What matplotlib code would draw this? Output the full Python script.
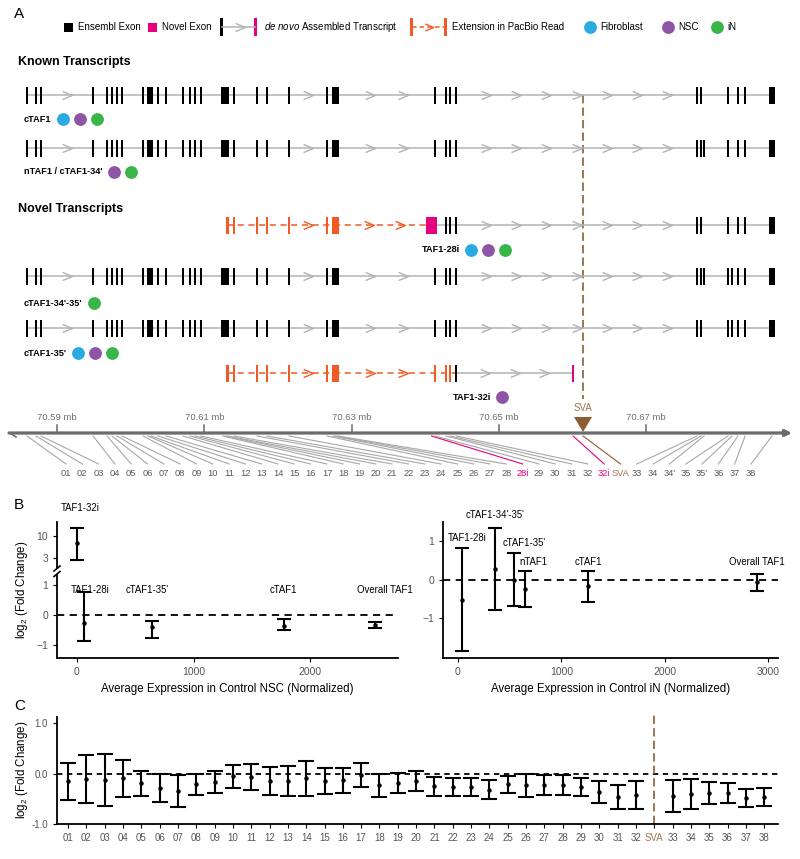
import numpy as np
import matplotlib
matplotlib.use("Agg")
import matplotlib.pyplot as plt
import matplotlib.transforms as mtrans
from matplotlib.path import Path
from matplotlib.patches import Rectangle, Polygon
from matplotlib.lines import Line2D
from matplotlib.ticker import NullLocator, FixedFormatter

plt.rcParams['font.family'] = ['Liberation Sans', 'DejaVu Sans']
plt.rcParams['mathtext.fontset'] = 'custom'
plt.rcParams['mathtext.rm'] = 'Liberation Sans'
plt.rcParams['mathtext.it'] = 'Liberation Sans:italic'

# ---------------- data ----------------
# TAF1 exons, genomic position (Mb) and length (Mb)
exon_ids = ['01', '02', '03', '04', '05', '06', '07', '08', '09', '10',
            '11', '12', '13', '14', '15', '16', '17', '18', '19', '20',
            '21', '22', '23', '24', '25', '26', '27', '28', '29', '30',
            '31', '32', '33', '34', "34'", '35', "35'", '36', '37', '38']
exon_mb = [70.58593, 70.58715, 70.58783, 70.59489, 70.59679, 70.59747, 70.59815, 70.59883, 70.60168, 70.60236,
           70.60276, 70.60371, 70.60480, 70.60711, 70.60806, 70.60874, 70.60955, 70.61247, 70.61281, 70.61315,
           70.61403, 70.61716, 70.61851, 70.62150, 70.62666, 70.62748, 70.62781, 70.62815, 70.64132, 70.64282,
           70.64336, 70.64418, 70.67690, 70.67744, 70.67785, 70.68111, 70.68165, 70.68247, 70.68342, 70.68708]
exon_len = [0.00038, 0.00038, 0.00038, 0.00038, 0.00038, 0.00038, 0.00038, 0.00038, 0.00038, 0.00038,
            0.00050, 0.00038, 0.00038, 0.00038, 0.00038, 0.00038, 0.00038, 0.00038, 0.00038, 0.00038,
            0.00038, 0.00038, 0.00038, 0.00038, 0.00038, 0.00038, 0.00038, 0.00038, 0.00038, 0.00038,
            0.00038, 0.00038, 0.00038, 0.00038, 0.00038, 0.00038, 0.00038, 0.00038, 0.00038, 0.00090]
novel_ids = ['28i', '32i']
novel_mb = [70.64085, 70.66006]
novel_len = [0.0015, 0.00035]
sva_mb = 70.66142
mb_ticks = [70.59, 70.61, 70.63, 70.65, 70.67]

# order of labels under the genomic axis
map_labels = (exon_ids[:28] + ['28i'] + exon_ids[28:32] + ['32i', 'SVA']
              + ['33', '34', "34'", '35', "35'", '36', '37', '38'])

core = exon_ids[:32]
tx_names = ['cTAF1', "nTAF1 / cTAF1-34'", 'TAF1-28i', "cTAF1-34'-35'", "cTAF1-35'", 'TAF1-32i']
tx_exons = [core + ['33', '34', '35', '36', '37', '38'],
            core + ['33', '34', "34'", '35', '36', '37', '38'],
            ['30', '31', '32', '33', '34', '35', '36', '37', '38'],
            core + ['33', '34', "34'", '35', "35'", '36', '37', '38'],
            core + ['33', '34', '35', "35'", '36', '37', '38'],
            ['32']]
tx_ext = [[], [], exon_ids[19:28], [], [], exon_ids[19:31]]
tx_novel = [[], [], ['28i'], [], [], ['32i']]
tx_cells = [['Fibroblast', 'NSC', 'iN'], ['NSC', 'iN'], ['Fibroblast', 'NSC', 'iN'],
            ['iN'], ['Fibroblast', 'NSC', 'iN'], ['NSC']]

# panel B
nsc_names = ['TAF1-32i', 'TAF1-28i', "cTAF1-35'", 'cTAF1', 'Overall TAF1']
nsc_expr = [0, 60, 640, 1770, 2550]
nsc_fc = [6.8, -0.28, -0.4, -0.36, -0.33]
nsc_lo = [2.69, -0.87, -0.77, -0.5, -0.43]
nsc_hi = [15.5, 0.77, -0.2, -0.13, -0.23]

in_names = ['TAF1-28i', "cTAF1-34'-35'", "cTAF1-35'", 'nTAF1', 'cTAF1', 'Overall TAF1']
in_expr = [40, 360, 540, 650, 1260, 2895]
in_fc = [-0.52, 0.28, 0.0, -0.24, -0.17, -0.07]
in_lo = [-1.85, -0.78, -0.69, -0.70, -0.58, -0.30]
in_hi = [0.83, 1.35, 0.70, 0.23, 0.24, 0.15]

# panel C
c_labels = ['01', '02', '03', '04', '05', '06', '07', '08', '09', '10',
            '11', '12', '13', '14', '15', '16', '17', '18', '19', '20',
            '21', '22', '23', '24', '25', '26', '27', '28', '29', '30',
            '31', '32', 'SVA', '33', '34', '35', '36', '37', '38']
c_fc = [-0.15, -0.11, -0.13, -0.09, -0.19, -0.29, -0.34, -0.21, -0.16, -0.05,
        -0.06, -0.15, -0.14, -0.09, -0.14, -0.13, -0.03, -0.23, -0.19, -0.15,
        -0.25, -0.26, -0.26, -0.32, -0.21, -0.23, -0.22, -0.22, -0.27, -0.36,
        -0.47, -0.43, np.nan, -0.44, -0.41, -0.38, -0.39, -0.49, -0.47]
c_lo = [-0.52, -0.58, -0.64, -0.47, -0.45, -0.57, -0.66, -0.43, -0.38, -0.29,
        -0.33, -0.42, -0.45, -0.44, -0.41, -0.38, -0.27, -0.46, -0.39, -0.35,
        -0.44, -0.44, -0.44, -0.51, -0.39, -0.47, -0.42, -0.43, -0.45, -0.59,
        -0.71, -0.70, np.nan, -0.77, -0.70, -0.60, -0.59, -0.67, -0.65]
c_hi = [0.21, 0.37, 0.39, 0.26, 0.06, -0.01, -0.03, 0.0, 0.05, 0.17,
        0.19, 0.12, 0.15, 0.25, 0.11, 0.11, 0.20, -0.01, 0.02, 0.05,
        -0.07, -0.09, -0.09, -0.13, -0.05, -0.01, -0.03, -0.02, -0.09, -0.14,
        -0.23, -0.14, np.nan, -0.12, -0.11, -0.17, -0.19, -0.31, -0.29]

# ---------------- style ----------------
GREY = '#b3b3b3'
ORANGE = '#f15a24'
MAGENTA = '#e6007e'
BROWN = '#8c5d33'
SVA_TXT = '#a07850'
cell_colors = {'Fibroblast': '#29abe2', 'NSC': '#8e55a5', 'iN': '#39b54a'}
TICKC = '#555555'

W, H = 800, 859
fig = plt.figure(figsize=(W / 100, H / 100), dpi=100)

MBPX = 0.02 / 147.3          # Mb per pixel on the genomic axis


def gx(px):
    return 70.59 + (px - 57) * MBPX


def fr(x0, y0, x1, y1):
    return [x0 / W, 1 - y1 / H, (x1 - x0) / W, (y1 - y0) / H]


# ---------------- panel A ----------------
ga = fig.add_axes([0, 0, 1, 1])
ga.set_xlim(gx(0), gx(W))
ga.set_ylim(H, 0)
ga.axis('off')
ga.patch.set_visible(False)

chev = Path([(-0.6, 0.5), (0.6, 0.0), (-0.6, -0.5)],
            [Path.MOVETO, Path.LINETO, Path.LINETO])

pos = dict(zip(exon_ids, exon_mb))
ln = dict(zip(exon_ids, exon_len))
pos.update(zip(novel_ids, novel_mb))
ln.update(zip(novel_ids, novel_len))


def chevrons(a, b, y, color):
    gap = (b - a) / MBPX
    n = int(gap / 33)
    if n < 1:
        return
    xs = [a + (b - a) * (k + 1) / (n + 1) for k in range(n)]
    ga.plot(xs, [y] * n, ls='none', marker=chev, ms=7, mew=1.0, mec=color,
            mfc='none', zorder=2)


def draw_tx(y, exons, ext, novel):
    main = sorted([pos[e] for e in exons + novel])
    ga.plot([main[0], main[-1]], [y, y], color=GREY, lw=1.1, zorder=1)
    for a, b in zip(main[:-1], main[1:]):
        chevrons(a, b, y, GREY)
    if ext:
        ep = sorted(pos[e] for e in ext)
        ga.plot([ep[0], main[0]], [y, y], color=ORANGE, lw=1.1,
                ls=(0, (4, 3)), zorder=1)
        ep2 = ep + [main[0]]
        for a, b in zip(ep2[:-1], ep2[1:]):
            chevrons(a, b, y, ORANGE)
        ga.bar([pos[e] for e in ext], 17, width=[ln[e] for e in ext],
               bottom=y - 8.5, color=ORANGE, lw=0, zorder=3)
    ga.bar([pos[e] for e in exons], 17, width=[ln[e] for e in exons],
           bottom=y - 8.5, color='black', lw=0, zorder=3)
    if novel:
        ga.bar([pos[e] for e in novel], 17, width=[ln[e] for e in novel],
               bottom=y - 8.5, color=MAGENTA, lw=0, zorder=4)


row_y = [95, 148, 225, 276, 328, 373]
lab_xy = [(24, 119), (24, 172), (422, 250), (24, 303), (24, 353), (453, 397)]

renderer = fig.canvas.get_renderer()
for i, name in enumerate(tx_names):
    draw_tx(row_y[i], tx_exons[i], tx_ext[i], tx_novel[i])
    lx, ly = lab_xy[i]
    t = ga.text(gx(lx), ly, name, fontsize=6.6, fontweight='bold',
                va='center', ha='left')
    x_end = t.get_window_extent(renderer).x1
    for k, c in enumerate(tx_cells[i]):
        ga.scatter(gx(x_end + 11 + 17 * k), ly, s=85, color=cell_colors[c],
                   lw=0, zorder=5)

ga.text(gx(18), 62, 'Known Transcripts', fontsize=9, fontweight='bold', va='center')
ga.text(gx(18), 209, 'Novel Transcripts', fontsize=9, fontweight='bold', va='center')

# legend
ly = 27
ga.add_patch(Rectangle((gx(64), ly - 4.5), 9 * MBPX, 9, color='black', lw=0))
ga.text(gx(78), ly, 'Ensembl Exon', fontsize=7, va='center')
ga.add_patch(Rectangle((gx(148), ly - 4.5), 9 * MBPX, 9, color=MAGENTA, lw=0))
ga.text(gx(162), ly, 'Novel Exon', fontsize=7, va='center')
ga.plot([gx(222), gx(255)], [ly, ly], color=GREY, lw=1.1)
ga.plot([gx(240)], [ly], ls='none', marker=chev, ms=7, mew=1.0, mec=GREY, mfc='none')
ga.add_patch(Rectangle((gx(220), ly - 9), 3 * MBPX, 18, color='black', lw=0))
ga.add_patch(Rectangle((gx(254), ly - 9), 3 * MBPX, 18, color=MAGENTA, lw=0))
ga.text(gx(264), ly, r'$\it{de\ novo}$ Assembled Transcript', fontsize=7, va='center')
ga.plot([gx(412), gx(446)], [ly, ly], color=ORANGE, lw=1.1, ls=(0, (3, 2)))
ga.plot([gx(429)], [ly], ls='none', marker=chev, ms=6, mew=1.0, mec=ORANGE, mfc='none')
ga.add_patch(Rectangle((gx(410), ly - 9), 3 * MBPX, 18, color=ORANGE, lw=0))
ga.add_patch(Rectangle((gx(444), ly - 9), 3 * MBPX, 18, color=ORANGE, lw=0))
ga.text(gx(452), ly, 'Extension in PacBio Read', fontsize=7, va='center')
for cx, c in zip([590, 668, 717], ['Fibroblast', 'NSC', 'iN']):
    ga.scatter(gx(cx), ly, s=85, color=cell_colors[c], lw=0)
    ga.text(gx(cx + 10), ly, c, fontsize=7, va='center')

# SVA marker
ga.plot([sva_mb, sva_mb], [95, 399], color=BROWN, lw=1.2, ls=(0, (5, 2.5)), zorder=0)
ga.add_patch(Polygon([(sva_mb - 9 * MBPX, 417), (sva_mb + 9 * MBPX, 417), (sva_mb, 432)],
                     closed=True, color=BROWN, lw=0, zorder=5))
ga.text(sva_mb, 408, 'SVA', color=SVA_TXT, fontsize=7, ha='center', va='center')

# genomic axis
ax_y = 433
ga.annotate('', xy=(gx(792), ax_y), xytext=(gx(9), ax_y),
            arrowprops=dict(arrowstyle='-|>', color='#6b6b6b', lw=2.3,
                            mutation_scale=9, shrinkA=0, shrinkB=0))
ga.plot([gx(10), gx(16)], [ax_y, ax_y + 4], color='#6b6b6b', lw=1.2)
for t in mb_ticks:
    ga.plot([t, t], [425, ax_y], color='#6b6b6b', lw=1.1)
    ga.text(t, 418, f'{t:.2f} mb', color='#707070', fontsize=6.8, ha='center', va='center')

# exon mapping lines and labels
lab_x0, lab_dx = 66, (751 - 66) / (len(map_labels) - 1)
for k, lab in enumerate(map_labels):
    px = lab_x0 + k * lab_dx
    if lab == 'SVA':
        src, col, tcol = sva_mb, BROWN, SVA_TXT
    elif lab in novel_ids:
        src, col, tcol = pos[lab], MAGENTA, MAGENTA
    else:
        src, col, tcol = pos[lab], '#a8a8a8', '#5a5a5a'
    ga.plot([src, gx(px)], [436, 464], color=col, lw=0.8, zorder=1)
    ga.text(gx(px), 473, lab, color=tcol, fontsize=6.7, ha='center', va='center')

# panel letters
fig.text(14 / W, 1 - 14 / H, 'A', fontsize=11, va='center')
fig.text(14 / W, 1 - 505 / H, 'B', fontsize=11, va='center')
fig.text(14 / W, 1 - 706 / H, 'C', fontsize=11, va='center')


# ---------------- panel B ----------------
def style(ax, left=True, bottom=True):
    for s in ['top', 'right']:
        ax.spines[s].set_visible(False)
    ax.spines['left'].set_visible(left)
    ax.spines['bottom'].set_visible(bottom)
    ax.spines['left'].set_linewidth(1.3)
    ax.spines['bottom'].set_linewidth(1.3)
    ax.tick_params(labelsize=7.5, labelcolor=TICKC, length=3, width=0.8)
    ax.patch.set_visible(False)


def ebar(ax, x, y, lo, hi, cap=5):
    x, y, lo, hi = map(np.asarray, (x, y, lo, hi))
    ax.errorbar(x, y, yerr=[y - lo, hi - y], fmt='o', ms=2.2, color='black',
                elinewidth=1.5, capsize=cap, capthick=1.5, zorder=3)


axU = fig.add_axes(fr(57, 522, 398, 568))
axL = fig.add_axes(fr(57, 575, 398, 658))
axR = fig.add_axes(fr(443, 522, 778, 658))

for ax in (axU, axL):
    ax.set_xlim(-171, 2750)
style(axU, bottom=False)
style(axL)
axU.set_yscale('log')
axU.set_ylim(1.73, 21.5)
axU.set_yticks([3, 10])
axU.yaxis.set_major_formatter(FixedFormatter(['3', '10']))
axU.yaxis.set_minor_locator(NullLocator())
axU.set_xticks([])

up = [i for i, v in enumerate(nsc_fc) if v > 1.5]
lowi = [i for i, v in enumerate(nsc_fc) if v <= 1.5]
ebar(axU, [nsc_expr[i] for i in up], [nsc_fc[i] for i in up],
     [nsc_lo[i] for i in up], [nsc_hi[i] for i in up])
ebar(axL, [nsc_expr[i] for i in lowi], [nsc_fc[i] for i in lowi],
     [nsc_lo[i] for i in lowi], [nsc_hi[i] for i in lowi])
axL.set_ylim(-1.43, 1.33)
axL.set_yticks([-1, 0, 1])
axL.set_xticks([0, 1000, 2000])
axL.axhline(0, color='black', lw=1.3, ls=(0, (4, 3)), zorder=1)
axL.set_xlabel('Average Expression in Control NSC (Normalized)', fontsize=8.3, labelpad=4)

# label positions (px offset, axes fraction)
nsc_lab_dx = [3, 6, -4, 0, 10]
nsc_lab_y = [1.30, 0.82, 0.82, 0.82, 0.82]
for i, name in enumerate(nsc_names):
    ax = axU if i in up else axL
    tr = mtrans.blended_transform_factory(ax.transData, ax.transAxes)
    ax.annotate(name, (nsc_expr[i], nsc_lab_y[i]), xycoords=tr,
                xytext=(nsc_lab_dx[i] * 0.72, 0), textcoords='offset points',
                ha='center', va='center', fontsize=6.9, annotation_clip=False)

# axis break marks
for yy in (568.5, 574):
    fig.add_artist(Line2D([54 / W, 60 / W], [1 - (yy + 2.5) / H, 1 - (yy - 2.5) / H],
                          color='black', lw=1.2))

style(axR)
ebar(axR, in_expr, in_fc, in_lo, in_hi)
axR.set_xlim(-145, 3098)
axR.set_ylim(-2.03, 1.5)
axR.set_yticks([-1, 0, 1])
axR.set_xticks([0, 1000, 2000, 3000])
axR.axhline(0, color='black', lw=1.3, ls=(0, (4, 3)), zorder=1)
axR.set_xlabel('Average Expression in Control iN (Normalized)', fontsize=8.3, labelpad=4)
in_lab_dx = [5, 0, 10, 8, 0, 0]
in_lab_y = [0.88, 1.05, 0.846, 0.706, 0.706, 0.706]
trR = mtrans.blended_transform_factory(axR.transData, axR.transAxes)
for i, name in enumerate(in_names):
    axR.annotate(name, (in_expr[i], in_lab_y[i]), xycoords=trR,
                 xytext=(in_lab_dx[i] * 0.72, 0), textcoords='offset points',
                 ha='center', va='center', fontsize=6.9, annotation_clip=False)

fig.text(22 / W, 1 - 590 / H, r'log$_2$ (Fold Change)', rotation=90,
         fontsize=8.3, ha='center', va='center')

# ---------------- panel C ----------------
axC = fig.add_axes(fr(57, 717, 778, 824))
style(axC)
xc = np.arange(len(c_labels))
ok = ~np.isnan(np.asarray(c_fc))
ebar(axC, xc[ok], np.asarray(c_fc)[ok], np.asarray(c_lo)[ok], np.asarray(c_hi)[ok], cap=5.5)
axC.set_xlim(-0.6, 38.75)
axC.set_ylim(-1.0, 1.12)
axC.set_yticks([-1.0, 0.0, 1.0])
axC.set_yticklabels(['-1.0', '0.0', '1.0'])
axC.set_xticks(xc)
axC.set_xticklabels(c_labels)
axC.tick_params(axis='x', labelsize=7)
axC.tick_params(axis='y', labelsize=7)
for tl in axC.get_xticklabels():
    if tl.get_text() == 'SVA':
        tl.set_color(SVA_TXT)
axC.axhline(0, color='black', lw=1.3, ls=(0, (3, 2.5)), zorder=1)
axC.axvline(c_labels.index('SVA'), color=BROWN, lw=1.2, ls=(0, (5, 2.5)), ymax=1.02,
            clip_on=False, zorder=1)
fig.text(22 / W, 1 - 770 / H, r'log$_2$ (Fold Change)', rotation=90,
         fontsize=8.3, ha='center', va='center')

fig.savefig('out.png', dpi=100)
